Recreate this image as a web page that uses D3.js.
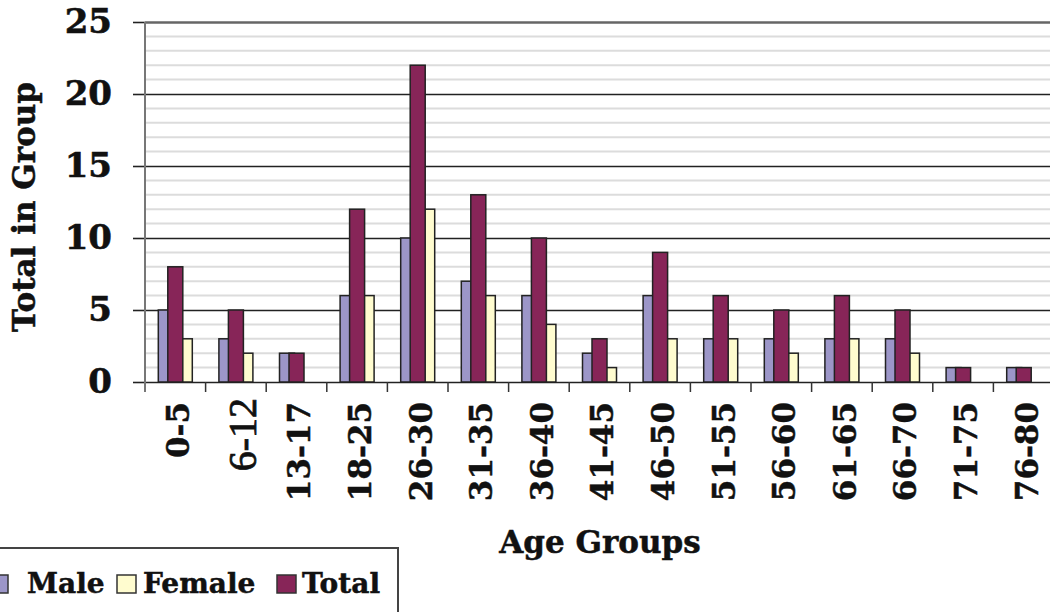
<!doctype html>
<html>
<head>
<style>
  body { margin: 0; background: #fff; }
  text { font-family: "DejaVu Serif", serif; font-weight: bold; fill: #111; }
</style>
<script src="https://cdn.jsdelivr.net/npm/d3@7"></script>
</head>
<body>
<svg width="1050" height="612"></svg>
<script>
// data
var ageGroups = ["0-5","6-12","13-17","18-25","26-30","31-35","36-40","41-45","46-50","51-55","56-60","61-65","66-70","71-75","76-80"];
var maleValues   = [5, 3, 2, 6, 10, 7, 6, 2, 6, 3, 3, 3, 3, 1, 1];
var femaleValues = [3, 2, 0, 6, 12, 6, 4, 1, 3, 3, 2, 3, 2, 0, 0];
var totalValues  = [8, 5, 2, 12, 22, 13, 10, 3, 9, 6, 5, 6, 5, 1, 1];
var yTicks = [0, 5, 10, 15, 20, 25];

var colors = { Male: "#9c96c8", Female: "#fffccf", Total: "#872558" };

var svg = d3.select("svg");

var x = d3.scaleBand().domain(ageGroups).range([145, 1054]).padding(0);
var y = d3.scaleLinear().domain([0, 25]).range([382, 22]);

// minor gridlines every 1
svg.append("g").selectAll("line")
   .data(d3.range(1, 25).filter(function(d) { return d % 5 != 0; }))
   .enter().append("line")
   .attr("x1", 145).attr("x2", 1054)
   .attr("y1", function(d) { return y(d); })
   .attr("y2", function(d) { return y(d); })
   .attr("stroke", "#dcdcdc")
   .attr("stroke-width", 2);

// y axis with major gridlines
var yAxis = svg.append("g")
   .attr("transform", "translate(145,0)")
   .call(d3.axisLeft(y).tickValues(yTicks).tickSize(12).tickPadding(21));
yAxis.select(".domain").remove();
yAxis.selectAll(".tick line").attr("stroke", "#222").attr("stroke-width", 1.6);
yAxis.selectAll(".tick").append("line")
   .attr("x1", 0).attr("x2", 1054 - 145)
   .attr("stroke", function(d) { return d == 25 ? "#666" : "#222"; })
   .attr("stroke-width", function(d) { return d == 25 ? 2.5 : 1.6; });
yAxis.selectAll("text")
   .style("font-family", "DejaVu Serif")
   .style("font-weight", "bold")
   .style("font-size", "34px")
   .attr("fill", "#111")
   .attr("stroke", "#111").attr("stroke-width", 0.6);

// left axis line
svg.append("line")
   .attr("x1", 145).attr("x2", 145)
   .attr("y1", y(25)).attr("y2", 392)
   .attr("stroke", "#777").attr("stroke-width", 2);

// x tick marks at band edges
svg.append("g").selectAll("line")
   .data(ageGroups.slice(1))
   .enter().append("line")
   .attr("x1", function(d) { return x(d); })
   .attr("x2", function(d) { return x(d); })
   .attr("y1", 382).attr("y2", 392)
   .attr("stroke", "#333").attr("stroke-width", 1.5);

// bars
var bw = 15;
var bars = svg.append("g");
ageGroups.forEach(function(g, i) {
    var c = x(g) + x.bandwidth() / 2;
    var list = [
        { key: "Male", v: maleValues[i], x0: c - 17 },
        { key: "Female", v: femaleValues[i], x0: c + 2 },
        { key: "Total", v: totalValues[i], x0: c - 7.5 }
    ];
    list.forEach(function(b) {
        if (b.v <= 0) return;
        bars.append("rect")
            .attr("x", b.x0)
            .attr("y", y(b.v))
            .attr("width", bw)
            .attr("height", y(0) - y(b.v))
            .attr("fill", colors[b.key])
            .attr("stroke", "#222")
            .attr("stroke-width", 1.5);
    });
});

// x labels, rotated
svg.append("g").selectAll("text")
   .data(ageGroups)
   .enter().append("text")
   .attr("transform", function(d) {
       var cx = x(d) + x.bandwidth() / 2 + (d == "6-12" ? 6 : 3);
       return "translate(" + cx + "," + (d == "6-12" ? 398 : 402) + ") rotate(-90)";
   })
   .attr("text-anchor", "end")
   .attr("dy", "0.35em")
   .style("font-size", function(d) { return d == "6-12" ? "40px" : "31px"; })
   .style("font-family", function(d) { return d == "6-12" ? "Liberation Serif" : "DejaVu Serif"; })
   .style("font-weight", function(d) { return d == "6-12" ? "normal" : "bold"; })
   .attr("stroke", "#111")
   .attr("stroke-width", function(d) { return d == "6-12" ? 0.8 : 0.5; })
   .text(function(d) { return d; });

// axis titles
svg.append("text")
   .attr("x", 600).attr("y", 553)
   .attr("text-anchor", "middle")
   .style("font-size", "31px")
   .attr("stroke", "#111").attr("stroke-width", 0.5)
   .text("Age Groups");

svg.append("text")
   .attr("transform", "translate(35,207) rotate(-90)")
   .attr("text-anchor", "middle")
   .style("font-size", "31px")
   .attr("stroke", "#111").attr("stroke-width", 0.5)
   .text("Total in Group");

// legend
var legend = svg.append("g");
legend.append("rect")
   .attr("x", -5).attr("y", 548)
   .attr("width", 403).attr("height", 80)
   .attr("fill", "#fff")
   .attr("stroke", "#444").attr("stroke-width", 2);

var legendItems = [
    { key: "Male", sx: -11, tx: 27 },
    { key: "Female", sx: 117, tx: 143 },
    { key: "Total", sx: 277, tx: 302 }
];
legendItems.forEach(function(it) {
    legend.append("rect")
        .attr("x", it.sx).attr("y", 575)
        .attr("width", 19).attr("height", 18)
        .attr("fill", colors[it.key])
        .attr("stroke", "#333").attr("stroke-width", 1.5);
    legend.append("text")
        .attr("x", it.tx).attr("y", 593)
        .style("font-size", "28px")
        .attr("stroke", "#111").attr("stroke-width", 0.5)
        .text(it.key);
});
</script>
</body>
</html>
